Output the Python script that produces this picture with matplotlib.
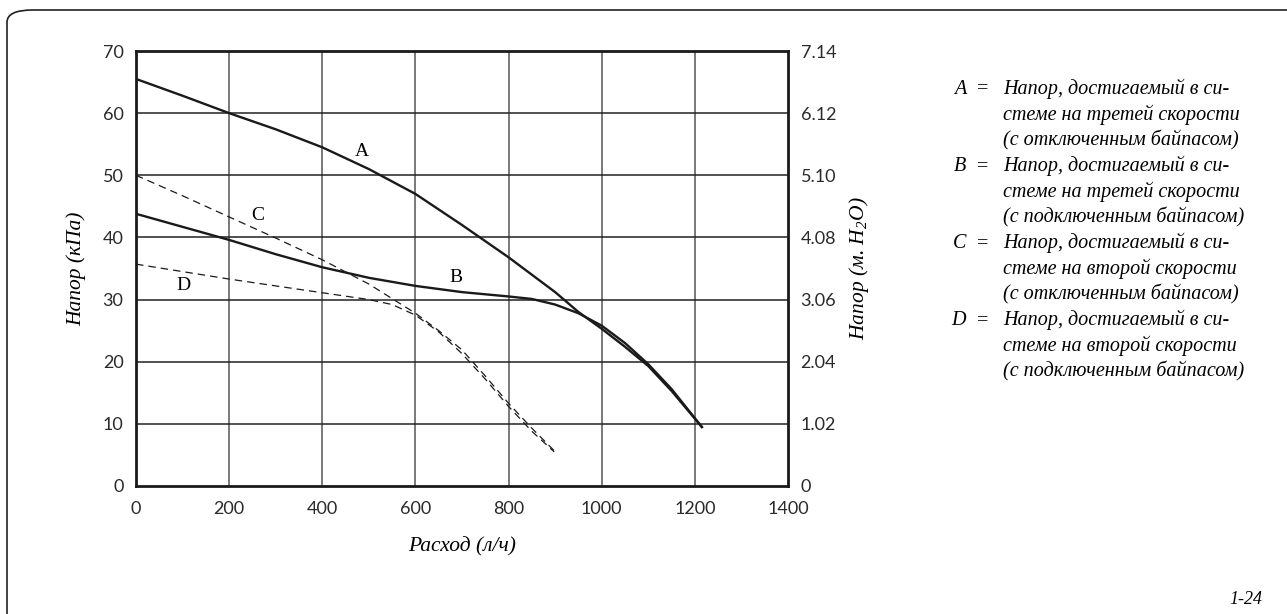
import matplotlib
matplotlib.use('Agg')
from matplotlib import pyplot as plt
from matplotlib.patches import FancyBboxPatch

# flow (l/h) and head (kPa)
a_flow = [0, 100, 200, 300, 400, 500, 600, 700, 800, 900, 950, 1000, 1050, 1100, 1150, 1215]
a_head = [65.5, 62.8, 60.0, 57.4, 54.5, 51.0, 47.0, 42.0, 36.8, 31.2, 28.0, 25.3, 22.4, 19.3, 15.3, 9.5]

b_flow = [0, 100, 200, 300, 400, 500, 600, 700, 800, 850, 900, 950, 1000, 1050, 1100, 1150, 1215]
b_head = [43.8, 41.7, 39.6, 37.3, 35.2, 33.5, 32.2, 31.2, 30.5, 30.1, 29.2, 27.8, 25.8, 23.0, 19.6, 15.6, 9.5]

c_flow = [0, 100, 200, 300, 400, 500, 600, 650, 700, 750, 800, 850, 903]
c_head = [50.0, 46.7, 43.3, 39.9, 36.4, 32.5, 27.8, 25.0, 21.9, 17.7, 13.3, 9.3, 5.3]

d_flow = [0, 100, 200, 300, 400, 500, 550, 600, 650, 700, 750, 800, 850, 898]
d_head = [35.7, 34.5, 33.3, 32.2, 31.1, 30.0, 29.2, 27.5, 24.8, 21.3, 17.2, 12.8, 8.8, 5.5]

x_ticks = [0, 200, 400, 600, 800, 1000, 1200, 1400]
y_ticks = [0, 10, 20, 30, 40, 50, 60, 70]
y2_labels = ['0', '1.02', '2.04', '3.06', '4.08', '5.10', '6.12', '7.14']

legend_keys = ['A', 'B', 'C', 'D']
legend_text = [
    ['Напор, достигаемый в си-', 'стеме на третей скорости', '(с отключенным байпасом)'],
    ['Напор, достигаемый в си-', 'стеме на третей скорости', '(с подключенным байпасом)'],
    ['Напор, достигаемый в си-', 'стеме на второй скорости', '(с отключенным байпасом)'],
    ['Напор, достигаемый в си-', 'стеме на второй скорости', '(с подключенным байпасом)'],
]

tick_font = 'Lato'
serif = 'Liberation Serif'
plt.rcParams['mathtext.fontset'] = 'custom'
plt.rcParams['mathtext.it'] = 'Liberation Serif:italic'
plt.rcParams['mathtext.rm'] = 'Liberation Serif:italic'

fig = plt.figure(figsize=(12.87, 6.14), dpi=100)
frame = FancyBboxPatch((7 / 1287, -0.1), 1.1, 1 - 10 / 614 + 0.1,
                       boxstyle='round,pad=0,rounding_size=0.02',
                       transform=fig.transFigure, fill=False,
                       edgecolor='#222222', linewidth=1.2)
fig.patches.append(frame)

ax = fig.add_axes([136 / 1287, 1 - 486 / 614, (788 - 136) / 1287, (486 - 51) / 614])
ax.set_xlim(0, 1400)
ax.set_ylim(0, 70)

for x in x_ticks[1:-1]:
    ax.axvline(x, color='#555555', lw=1.1, zorder=1)
for y in y_ticks[1:-1]:
    ax.axhline(y, color='#222222', lw=1.1, zorder=1)

ax.plot(a_flow, a_head, color='#1a1a1a', lw=1.7, zorder=3)
ax.plot(b_flow, b_head, color='#1a1a1a', lw=1.7, zorder=3)
ax.plot(c_flow, c_head, color='#1a1a1a', lw=0.9, dashes=(6, 4), zorder=3)
ax.plot(d_flow, d_head, color='#1a1a1a', lw=0.9, dashes=(6, 4), zorder=3)

ax.text(485, 53.9, 'A', fontsize=14, family=serif, ha='center', va='center')
ax.text(687, 33.6, 'B', fontsize=14, family=serif, ha='center', va='center')
ax.text(262, 43.6, 'C', fontsize=14, family=serif, ha='center', va='center')
ax.text(101, 32.2, 'D', fontsize=14, family=serif, ha='center', va='center')

for s in ax.spines.values():
    s.set_linewidth(2.0)
    s.set_color('#1a1a1a')

ax.set_xticks(x_ticks)
ax.set_yticks(y_ticks)
ax.tick_params(length=0, pad=9, labelsize=13, colors='#2a2a2a')
for lab in ax.get_xticklabels() + ax.get_yticklabels():
    lab.set_family(tick_font)
ax.tick_params(axis='x', pad=11)

ax2 = ax.twinx()
ax2.set_ylim(0, 70)
ax2.set_yticks(y_ticks)
ax2.set_yticklabels(y2_labels)
ax2.tick_params(length=0, pad=9, labelsize=13, colors='#2a2a2a')
for lab in ax2.get_yticklabels():
    lab.set_family(tick_font)
for s in ax2.spines.values():
    s.set_visible(False)

ax.set_xlabel('Расход (л/ч)', family=serif, style='italic', fontsize=15.5, labelpad=14)
ax.set_ylabel('Напор (кПа)', family=serif, style='italic', fontsize=15.5, labelpad=12)
ax2.set_ylabel('Напор (м. H$_2$O)', family=serif, style='italic', fontsize=15.5, labelpad=8)

# legend block on the right
y0 = 1 - 89 / 614
step = 25.7 / 614
row = 0
for key, lines in zip(legend_keys, legend_text):
    yy = y0 - row * step
    fig.text(966 / 1287, yy, key, family=serif, style='italic', fontsize=14.5,
             ha='right', va='center')
    fig.text(983 / 1287, yy, '=', family=serif, fontsize=14.5, ha='center', va='center')
    for i, ln in enumerate(lines):
        fig.text(1003 / 1287, y0 - (row + i) * step, ln, family=serif, style='italic',
                 fontsize=14.5, ha='left', va='center')
    row += 3

fig.text(1262 / 1287, 1 - 600 / 614, '1-24', family=serif, style='italic',
         fontsize=13, ha='right', va='center')

fig.savefig('out.png', dpi=100)
